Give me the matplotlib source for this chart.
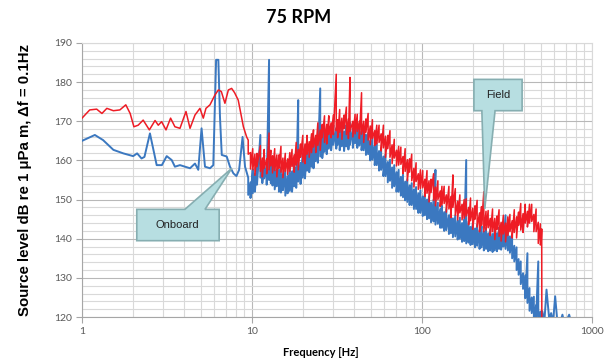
import matplotlib
matplotlib.use("Agg")
import matplotlib.pyplot as plt
from matplotlib.patches import Polygon
from matplotlib.ticker import FixedLocator, FixedFormatter, MultipleLocator, NullFormatter

# --- low frequency part (1 - 10 Hz) ---
field_f_low = [1.0, 1.11, 1.22, 1.31, 1.40, 1.53, 1.67, 1.81, 1.92, 2.02,
               2.14, 2.29, 2.49, 2.69, 2.81, 2.94, 3.12, 3.32, 3.52, 3.77,
               4.09, 4.32, 4.62, 4.94, 5.17, 5.36, 5.66, 6.05, 6.34, 6.6,
               6.93, 7.26, 7.59, 7.9, 8.3, 8.6, 8.9, 9.3]
field_db_low = [170.8, 172.9, 173.1, 172.0, 173.3, 172.7, 172.9, 174.2, 172.0, 168.6,
                169.0, 170.3, 167.8, 170.2, 169.0, 169.9, 167.8, 170.8, 168.6, 168.2,
                172.5, 168.2, 171.6, 173.3, 170.8, 173.3, 174.2, 176.7, 178.0, 177.6,
                174.6, 178.0, 178.4, 177.3, 175.4, 172.0, 168.6, 166.0]

onboard_f_low = [1.0, 1.19, 1.33, 1.53, 1.75, 2.0, 2.11, 2.24, 2.33, 2.51,
                 2.63, 2.75, 2.95, 3.15, 3.37, 3.52, 3.77, 4.03, 4.32, 4.62,
                 4.83, 5.05, 5.29, 5.66, 5.92, 6.15, 6.34, 6.48, 6.64, 7.1,
                 7.42, 7.77, 8.1, 8.4, 8.8, 9.1]
onboard_db_low = [165.0, 166.5, 165.2, 162.7, 161.8, 161.1, 161.8, 160.5, 160.9, 166.9,
                  162.7, 158.8, 158.8, 161.1, 160.1, 158.4, 158.8, 158.4, 158.0, 159.2,
                  157.6, 168.2, 158.4, 158.0, 158.8, 185.7, 185.7, 171.2, 161.4, 161.0,
                  158.4, 156.7, 156.0, 157.6, 166.0, 158.4]

# --- dense part of the spectrum: max / min level in each frequency bin ---
freq_band = [9.5, 9.8, 10.1, 10.4, 10.7, 11.2, 11.5, 11.8, 12.2, 12.6,
             12.9, 13.2, 13.6, 14.0, 14.4, 14.8, 15.2, 15.7, 16.2, 16.7,
             17.2, 17.7, 18.2, 18.7, 19.3, 19.9, 20.5, 21.1, 21.7, 22.4,
             23.0, 23.7, 24.4, 25.2, 25.9, 26.7, 27.5, 28.3, 29.2, 30.1,
             31.3, 31.9, 32.8, 33.8, 34.8, 35.9, 36.9, 37.7, 39.2, 40.4,
             41.6, 42.8, 44.1, 45.4, 46.8, 48.2, 49.6, 51.1, 52.7, 54.2,
             55.9, 57.5, 59.3, 61.0, 62.9, 64.8, 66.7, 68.7, 70.8, 72.9,
             75.1, 77.3, 79.6, 82.0, 84.5, 87.0, 89.6, 92.3, 95.1, 97.9,
             101, 104, 107, 110, 113, 117, 120, 124, 128, 131,
             135, 139, 144, 148, 152, 157, 162, 167, 172, 177,
             182, 188, 193, 199, 205, 211, 218, 224, 231, 238,
             245, 252, 260, 268, 276, 284, 292, 301, 310, 320,
             329, 339, 349, 360, 370, 381, 393, 405, 417, 429,
             442, 455, 469, 483, 497]

field_hi = [165.2, 162.0, 163.0, 161.6, 161.8, 163.8, 160.6, 162.8, 160.4, 167.0,
            162.6, 161.2, 163.0, 161.4, 161.4, 163.6, 160.6, 161.8, 160.4, 162.0,
            162.8, 161.4, 164.6, 162.8, 164.2, 166.4, 164.2, 166.4, 164.8, 166.8,
            167.8, 166.4, 169.6, 167.8, 169.2, 171.4, 169.2, 171.4, 169.6, 171.6,
            182.0, 170.4, 173.0, 170.8, 171.6, 173.6, 170.6, 181.2, 170.0, 171.8,
            171.8, 170.0, 177.3, 170.0, 170.6, 172.0, 168.8, 170.4, 167.6, 169.0,
            169.0, 166.8, 169.0, 166.2, 166.4, 167.6, 164.0, 165.4, 162.6, 163.6,
            163.4, 161.0, 163.0, 160.2, 160.4, 161.6, 158.0, 159.4, 156.6, 157.6,
            157.4, 155.2, 157.4, 154.8, 155.2, 156.6, 153.2, 154.8, 152.2, 153.4,
            153.4, 151.2, 153.4, 150.8, 156.3, 152.8, 149.6, 151.2, 148.8, 150.0,
            150.2, 148.0, 150.4, 147.8, 148.4, 149.8, 146.6, 148.2, 152.0, 147.0,
            147.2, 145.2, 147.6, 145.2, 145.8, 147.4, 144.2, 146.0, 144.0, 145.6,
            146.2, 144.6, 147.4, 145.6, 146.8, 149.0, 146.4, 148.8, 147.0, 148.8,
            148.8, 146.2, 147.6, 144.2, 143.8]
field_lo = [161.6, 157.8, 157.6, 156.2, 158.4, 157.2, 155.8, 158.0, 156.6, 157.6,
            158.6, 156.8, 157.4, 155.8, 158.0, 157.0, 155.6, 157.2, 156.4, 157.2,
            158.4, 157.0, 158.8, 157.6, 160.8, 159.6, 159.2, 161.6, 160.8, 162.0,
            163.4, 162.0, 163.8, 162.6, 165.8, 164.6, 164.2, 166.6, 165.8, 166.6,
            167.6, 165.8, 167.2, 165.4, 168.2, 166.6, 165.6, 167.4, 166.0, 166.8,
            167.4, 165.6, 166.7, 164.6, 167.2, 165.2, 164.0, 165.6, 163.8, 164.2,
            164.6, 162.4, 163.2, 160.8, 163.0, 160.8, 159.2, 160.6, 158.6, 158.8,
            159.0, 156.6, 157.2, 154.8, 157.0, 154.8, 153.2, 154.6, 152.6, 152.8,
            153.0, 150.8, 151.6, 149.4, 151.8, 149.8, 148.4, 150.0, 148.2, 148.6,
            149.0, 146.8, 147.6, 145.4, 148.0, 146.0, 144.8, 146.6, 144.8, 145.2,
            145.8, 143.6, 144.6, 142.4, 145.0, 143.0, 141.8, 143.4, 141.8, 142.2,
            142.8, 140.8, 141.8, 139.8, 142.4, 140.6, 139.4, 141.2, 139.2, 140.8,
            141.8, 140.2, 141.6, 140.2, 143.4, 142.2, 141.6, 144.0, 143.0, 144.0,
            144.4, 141.8, 141.8, 138.8, 138.4]

onboard_hi = [155.6, 154.4, 157.8, 156.6, 159.0, 166.5, 159.4, 161.4, 158.6, 185.7,
              160.6, 158.4, 159.6, 157.6, 157.6, 158.2, 156.4, 157.4, 156.0, 158.0,
              157.2, 159.2, 158.2, 175.4, 159.4, 161.6, 160.6, 163.2, 162.2, 164.0,
              163.2, 165.6, 164.8, 178.4, 165.8, 167.6, 166.8, 168.6, 167.4, 169.0,
              168.2, 169.4, 167.6, 169.2, 167.4, 169.0, 167.8, 169.6, 168.2, 170.0,
              168.2, 169.2, 167.4, 168.0, 166.6, 167.0, 165.0, 165.8, 163.8, 164.4,
              162.4, 163.0, 161.0, 161.6, 159.6, 160.2, 158.2, 158.8, 157.0, 157.6,
              155.8, 156.4, 154.6, 155.2, 153.6, 154.2, 152.6, 153.2, 151.6, 152.4,
              150.8, 151.6, 150.0, 150.8, 149.2, 150.0, 157.6, 149.2, 147.6, 148.4,
              146.8, 147.6, 146.0, 146.8, 145.2, 146.0, 144.6, 145.4, 144.0, 144.8,
              160.1, 144.4, 143.0, 144.0, 142.6, 143.6, 142.2, 143.2, 141.8, 142.8,
              141.4, 142.4, 141.2, 142.4, 141.4, 142.8, 141.8, 143.4, 146.0, 142.6,
              140.6, 140.8, 138.2, 137.8, 134.8, 134.2, 131.2, 130.6, 136.3, 127.4,
              125.0, 125.2, 123.0, 134.2, 121.4]
onboard_lo = [151.2, 150.4, 151.6, 152.0, 153.8, 155.6, 154.2, 155.4, 153.8, 155.0,
              154.2, 153.6, 152.6, 153.4, 152.0, 151.8, 152.4, 151.0, 151.6, 152.2,
              152.0, 153.4, 153.0, 154.6, 154.0, 155.6, 155.4, 157.4, 157.0, 158.4,
              158.0, 159.8, 159.4, 161.0, 160.6, 162.2, 161.6, 163.0, 162.6, 164.0,
              163.0, 164.0, 162.6, 163.6, 162.4, 163.6, 162.8, 164.0, 163.2, 164.4,
              163.2, 163.8, 162.6, 162.6, 161.4, 161.6, 160.0, 160.2, 158.8, 158.8,
              157.4, 157.6, 156.0, 156.0, 154.4, 154.8, 153.0, 153.4, 152.0, 152.0,
              151.0, 150.6, 149.8, 149.4, 148.6, 148.6, 147.6, 147.6, 146.6, 146.6,
              145.8, 146.0, 145.0, 145.2, 144.2, 144.4, 143.6, 143.8, 142.8, 142.8,
              142.0, 142.2, 141.2, 141.4, 140.4, 140.6, 139.8, 140.0, 139.2, 139.4,
              138.8, 139.0, 138.4, 138.6, 137.8, 138.2, 137.4, 137.8, 137.0, 137.4,
              136.8, 137.0, 136.6, 137.0, 136.8, 137.4, 137.2, 138.0, 137.4, 137.0,
              136.4, 135.0, 134.2, 132.0, 130.8, 128.4, 127.2, 124.8, 123.6, 121.6,
              121.0, 119.4, 119.4, 117.8, 117.6]

# --- tails above 500 Hz ---
field_f_tail = [503, 506, 507]
field_db_tail = [139.5, 142.5, 118.0]
onboard_f_tail = [510, 525, 540, 560, 575, 590, 607, 625, 650, 670, 690, 734, 760]
onboard_db_tail = [121.5, 119.0, 127.0, 119.5, 121.0, 118.5, 125.3, 119.0, 118.5, 120.6, 118.0, 120.6, 118.0]

title = "75 RPM"
xlabel = "Frequency [Hz]"
ylabel = "Source level dB re 1 \u03bcPa m, \u0394f = 0.1Hz"
xticks = [1, 10, 100, 1000]
xticklabels = ["1", "10", "100", "1000"]


def band_path(freqs, hi, lo):
    # walk max -> min inside each bin, like a dense spectrum trace
    f_out, v_out = [], []
    for f, a, b in zip(freqs, hi, lo):
        f_out += [f, f]
        v_out += [a, b]
    return f_out, v_out


of_band, ov_band = band_path(freq_band, onboard_hi, onboard_lo)
ff_band, fv_band = band_path(freq_band, field_hi, field_lo)
onboard_f = onboard_f_low + of_band + onboard_f_tail
onboard_db = onboard_db_low + ov_band + onboard_db_tail
field_f = field_f_low + ff_band + field_f_tail
field_db = field_db_low + fv_band + field_db_tail

fig = plt.figure(figsize=(6.11, 3.6), dpi=100)
ax = fig.add_axes([0.1342, 0.1194, 0.8347, 0.7612])

ax.plot(onboard_f, onboard_db, color="#3b78c0", lw=1.4, zorder=3)
ax.plot(field_f, field_db, color="#ee1c25", lw=1.1, zorder=4)

ax.set_xscale("log")
ax.set_xlim(1, 1000)
ax.set_ylim(120, 190)
ax.xaxis.set_major_locator(FixedLocator(xticks))
ax.xaxis.set_major_formatter(FixedFormatter(xticklabels))
ax.xaxis.set_minor_formatter(NullFormatter())
ax.yaxis.set_major_locator(MultipleLocator(10))
ax.yaxis.set_minor_locator(MultipleLocator(2))

ax.grid(which="major", color="#b8b8b8", lw=0.8, zorder=0)
ax.grid(which="minor", color="#d9d9d9", lw=0.8, zorder=0)
ax.set_axisbelow(True)
ax.tick_params(which="major", length=4, color="#a6a6a6", labelsize=7.5, labelcolor="#595959", pad=3)
ax.tick_params(which="minor", length=0)
for lab in ax.get_xticklabels() + ax.get_yticklabels():
    lab.set_family("Lato")
for side in ["left", "bottom"]:
    ax.spines[side].set_color("#a6a6a6")
for side in ["top", "right"]:
    ax.spines[side].set_color("#d9d9d9")

fig.text(0.488, 0.952, title, ha="center", va="center", fontsize=13,
         fontweight="bold", family="Lato")
ax.set_xlabel(xlabel, fontsize=8, fontweight="bold", family="Lato")
ax.set_ylabel(ylabel, fontsize=10.8, fontweight="bold", family="Liberation Sans")
ax.xaxis.set_label_coords(0.469, -0.108)
ax.yaxis.set_label_coords(-0.098, 0.5)

# callouts (box + wedge pointing at the curves)
box_face = "#b7dee1"
box_edge = "#86aeb1"
onboard_shape = [(2.10, 147.5), (4.03, 147.5), (7.61, 158.0), (5.29, 147.5), (6.41, 147.5),
                 (6.41, 139.5), (2.10, 139.5)]
field_shape = [(202, 180.7), (388, 180.7), (388, 172.7), (269, 172.7), (234, 147.6),
               (225, 172.7), (202, 172.7)]
for shape in [onboard_shape, field_shape]:
    ax.add_patch(Polygon(shape, closed=True, facecolor=box_face, edgecolor=box_edge,
                         lw=1.2, zorder=6))
ax.text(3.66, 143.5, "Onboard", ha="center", va="center", fontsize=8,
        family="Liberation Sans", color="#222222", zorder=7)
ax.text(279, 176.7, "Field", ha="center", va="center", fontsize=8,
        family="Liberation Sans", color="#222222", zorder=7)

fig.savefig("out.png", dpi=100)
